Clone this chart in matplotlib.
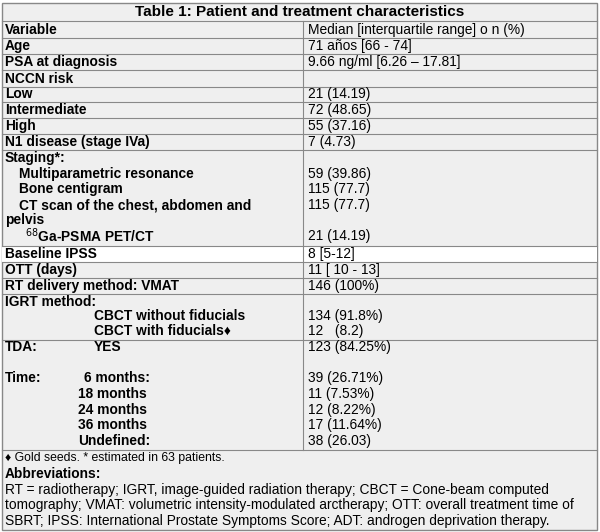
import matplotlib.pyplot as plt

plt.rcParams['font.family'] = ['Liberation Sans', 'DejaVu Sans']

title = "Table 1: Patient and treatment characteristics"
left_labels = ["Variable", "Age", "PSA at diagnosis", "NCCN risk", "Low", "Intermediate", "High",
               "N1 disease (stage IVa)", "Staging*:", "Multiparametric resonance", "Bone centigram",
               "CT scan of the chest, abdomen and", "pelvis", r"$^{68}$Ga-PSMA PET/CT",
               "Baseline IPSS", "OTT (days)", "RT delivery method: VMAT", "IGRT method:",
               "CBCT without fiducials", "CBCT with fiducials\u2666", "TDA:", "Time:",
               "18 months", "24 months", "36 months", "Undefined:"]
right_values = ["Median [interquartile range] o n (%)", "71 años [66 - 74]", "9.66 ng/ml [6.26 \u2013 17.81]",
                "", "21 (14.19)", "72 (48.65)", "55 (37.16)", "7 (4.73)", "", "59 (39.86)", "115 (77.7)",
                "115 (77.7)", "", "21 (14.19)", "8 [5-12]", "11 [ 10 - 13]", "146 (100%)", "",
                "134 (91.8%)", "12   (8.2)", "123 (84.25%)", "39 (26.71%)", "11 (7.53%)", "12 (8.22%)",
                "17 (11.64%)", "38 (26.03)"]
row_y = [30, 46, 62, 79, 94, 110, 126, 142, 158, 174, 189, 205, 220, 236,
         254, 270, 286, 302, 316, 331, 347, 378, 394, 410, 425, 441]
indent = [5] * 9 + [19, 19, 19, 5, 25] + [5] * 4 + [94, 94, 5, 5, 78, 78, 78, 78]
hlines = [21, 38, 54, 70, 87, 102, 118, 134, 150, 246, 262, 278, 294, 340, 450]

W, H = 600, 532
FS = 9.9
fig = plt.figure(figsize=(6, 5.32), dpi=100)
ax = fig.add_axes([0, 0, 1, 1])
ax.set_xlim(0, W)
ax.set_ylim(H, 0)
ax.axis('off')

ax.add_patch(plt.Rectangle((2, 3), 595, 527, facecolor='#efefef', edgecolor='#888888', lw=1))
ax.add_patch(plt.Rectangle((2, 246), 595, 16, facecolor='white', edgecolor='none'))
for y in hlines:
    ax.plot([2, 597], [y, y], color='#888888', lw=0.8)
ax.plot([303, 303], [21, 450], color='#888888', lw=0.8)

ax.text(300, 12, title, ha='center', va='center', fontsize=11, fontweight='bold')
for lab, val, y, x in zip(left_labels, right_values, row_y, indent):
    ax.text(x, y, lab, ha='left', va='center', fontsize=FS, fontweight='bold')
    ax.text(308, y, val, ha='left', va='center', fontsize=FS)
ax.text(94, 347, "YES", ha='left', va='center', fontsize=FS, fontweight='bold')
ax.text(84, 378, "6 months:", ha='left', va='center', fontsize=FS, fontweight='bold')

ax.text(5, 458, "\u2666 Gold seeds. * estimated in 63 patients.", ha='left', va='center', fontsize=8.8)
ax.text(5, 474, "Abbreviations:", ha='left', va='center', fontsize=FS, fontweight='bold')
notes = ["RT = radiotherapy; IGRT, image-guided radiation therapy; CBCT = Cone-beam computed",
         "tomography; VMAT: volumetric intensity-modulated arctherapy; OTT: overall treatment time of",
         "SBRT; IPSS: International Prostate Symptoms Score; ADT: androgen deprivation therapy."]
for i, t in enumerate(notes):
    ax.text(5, 490 + i * 15.5, t, ha='left', va='center', fontsize=FS)

fig.savefig('out.png', dpi=100, facecolor='white')
